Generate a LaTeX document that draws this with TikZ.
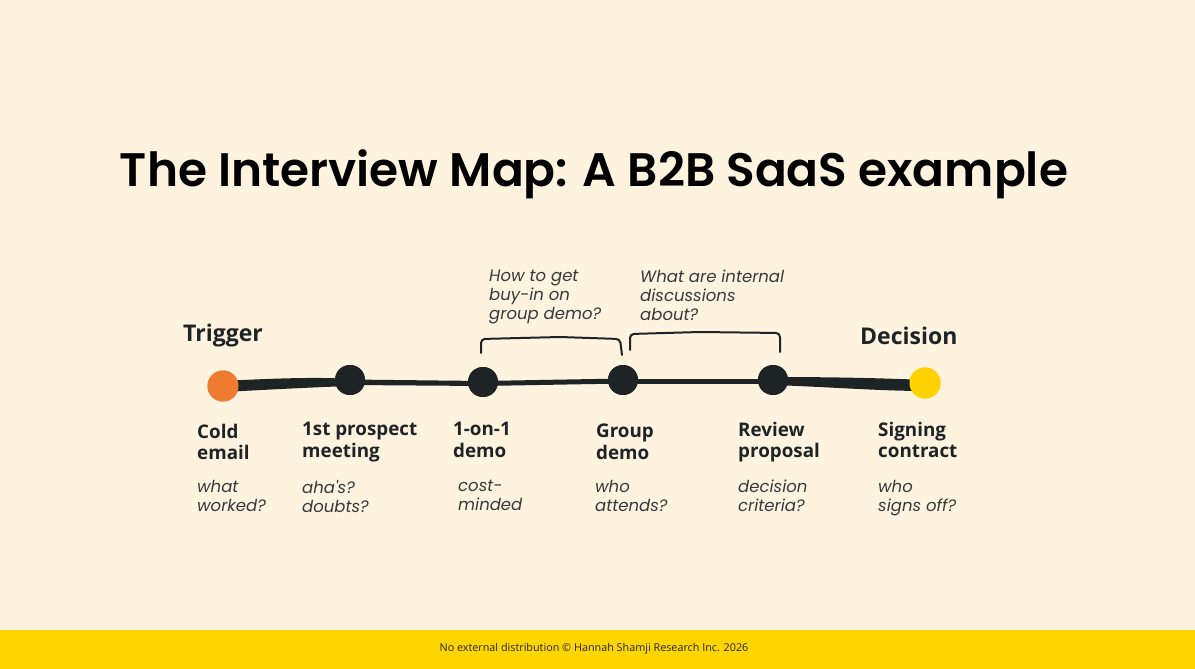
\documentclass[tikz,border=0pt]{standalone}
\usepackage{fontspec}
\usetikzlibrary{calc}
\setmainfont{Poppins}
\newfontfamily\titlefont{Poppins}[UprightFont={* SemiBold}]
\newfontfamily\labfont{Open Sans}
\newfontfamily\qfont{Poppins}
\newfontfamily\footfont{Open Sans}
\definecolor{cream}{HTML}{FDF3DF}
\definecolor{band}{HTML}{FFD500}
\definecolor{ink}{HTML}{1E2426}
\definecolor{orng}{HTML}{EE7B30}
\definecolor{yell}{HTML}{FFD200}
\begin{document}
\begin{tikzpicture}[x=1pt,y=-1pt,
  dot/.style={circle,fill=ink,minimum size=30pt,inner sep=0pt},
  stage/.style={anchor=north west,align=left,font=\labfont\bfseries\fontsize{18.8}{21.5}\selectfont,text=ink,inner sep=0pt},
  quest/.style={anchor=north west,align=left,font=\qfont\itshape\fontsize{16.5}{19}\selectfont,text=ink!90,inner sep=0pt},
  endlab/.style={font=\labfont\bfseries\fontsize{23}{25}\selectfont,text=ink,inner sep=0pt},
  brk/.style={draw=ink,line width=2pt,line cap=round,rounded corners=4pt}]
\useasboundingbox (0,0) rectangle (1195,669);
\fill[cream] (0,0) rectangle (1195,669);
\fill[band] (0,630) rectangle (1195,669);
\node[font=\footfont\fontsize{10.8}{12}\selectfont,text=ink] (foot) at (594,649) {No external distribution © Hannah Shamji Research Inc. 2026};
\node[font=\titlefont\fontsize{47}{51}\selectfont,text=black] (title) at (594,174) {The Interview Map: A B2B SaaS example};
% nodes
\node[circle,fill=orng,minimum size=31pt,inner sep=0pt] (n1) at (223,386) {};
\node[dot] (n2) at (350,380) {};
\node[dot] (n3) at (483,382) {};
\node[dot] (n4) at (623,380) {};
\node[dot] (n5) at (773,380) {};
\node[circle,fill=yell,minimum size=31pt,inner sep=0pt] (n6) at (925,383) {};
% line segments (hand drawn look)
\fill[ink] ($(n1.center)+(0,-5)$) .. controls (280,378) and (320,377) .. ($(n2.center)+(0,-1)$) -- ($(n2.center)+(0,6)$) .. controls (320,387) and (280,389) .. ($(n1.center)+(0,6)$) -- cycle;
\fill[ink] ($(n2.center)+(0,-0.5)$) -- ($(n3.center)+(0,-1)$) -- ($(n3.center)+(0,4)$) -- ($(n2.center)+(0,5)$) -- cycle;
\fill[ink] ($(n3.center)+(0,-1)$) -- ($(n4.center)+(0,-1.5)$) -- ($(n4.center)+(0,3.5)$) -- ($(n3.center)+(0,4)$) -- cycle;
\fill[ink] ($(n4.center)+(0,-1.5)$) -- ($(n5.center)+(0,-1.5)$) -- ($(n5.center)+(0,3.5)$) -- ($(n4.center)+(0,3.5)$) -- cycle;
\fill[ink] ($(n5.center)+(0,-3)$) .. controls (830,377) and (880,378) .. ($(n6.center)+(0,-3)$) -- ($(n6.center)+(0,8)$) .. controls (880,391) and (830,387) .. ($(n5.center)+(0,5)$) -- cycle;
\node[circle,fill=orng,minimum size=31pt,inner sep=0pt] at (n1) {};
\node[dot] at (n2) {};
\node[dot] at (n3) {};
\node[dot] at (n4) {};
\node[dot] at (n5) {};
\node[circle,fill=yell,minimum size=31pt,inner sep=0pt] at (n6) {};
% end labels
\node[endlab,anchor=west] (trig) at (183,336) {Trigger};
\node[endlab,anchor=west] (dec) at (860,336) {Decision};
% stage labels
\node[stage] (s1) at (197,424) {Cold\\email};
\node[stage] (s2) at (302,422) {1st prospect\\meeting};
\node[stage] (s3) at (453,422) {1-on-1\\demo};
\node[stage] (s4) at (596,424) {Group\\demo};
\node[stage] (s5) at (738,422) {Review\\proposal};
\node[stage] (s6) at (878,422) {Signing\\contract};
% questions
\node[quest] (q1) at (197,480) {what\\worked?};
\node[quest] (q2) at (302,480) {aha's?\\doubts?};
\node[quest] (q3) at (458,480) {cost-\\minded};
\node[quest] (q4) at (595,480) {who\\attends?};
\node[quest] (q5) at (738,480) {decision\\criteria?};
\node[quest] (q6) at (878,480) {who\\signs off?};
% top questions
\node[quest] (t1) at (489,270) {How to get\\buy-in on\\group demo?};
\node[quest] (t2) at (640,270) {What are internal\\discussions\\about?};
% brackets
\coordinate (b1a) at (481,353);
\coordinate (b1b) at (622,355);
\draw[brk] (b1a) -- (481,339) -- (560,337) -- (620,339) -- (b1b);
\coordinate (b2a) at (630,350);
\coordinate (b2b) at (780,352);
\draw[brk] (b2a) -- (630,334) -- (700,332) -- (780,333) -- (b2b);
\end{tikzpicture}
\end{document}
